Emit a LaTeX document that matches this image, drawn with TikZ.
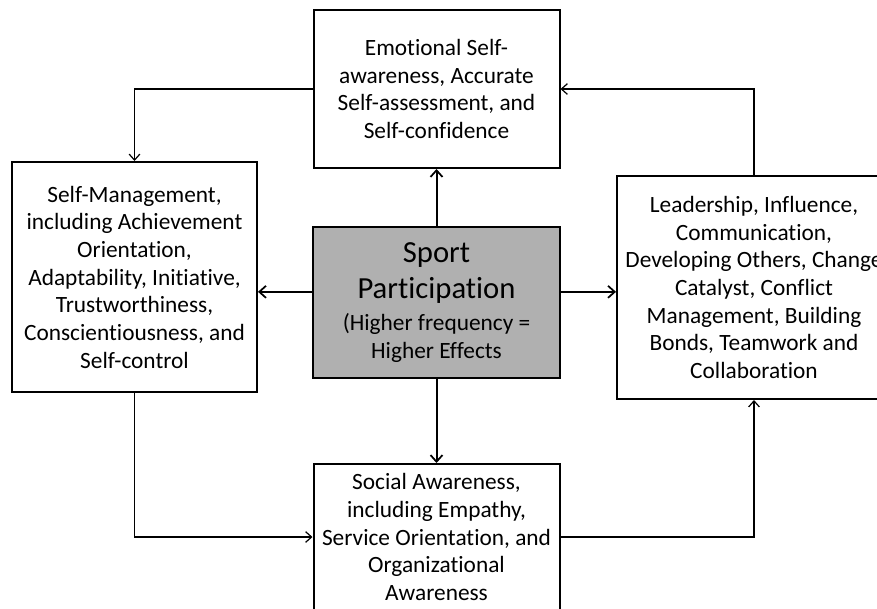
\documentclass[tikz,border=0pt]{standalone}
\usepackage{fontspec}
\setmainfont[Ligatures=NoCommon]{Carlito}
\usetikzlibrary{arrows.meta}

\definecolor{sportgray}{RGB}{176,176,176}

\begin{document}
\begin{tikzpicture}[
    x=0.75pt, y=-0.75pt,
    box/.style={draw, line width=1.5pt, rectangle, align=center, inner sep=0pt,
                font=\fontsize{17.5}{20.75}\selectfont},
    thickarr/.style={line width=1.5pt, -{Straight Barb[length=5pt,width=9pt,line width=1.3pt]}},
    thinarr/.style={line width=0.9pt, -{Straight Barb[length=4.5pt,width=8pt,line width=0.9pt]}}
]
    \useasboundingbox (0,0) rectangle (877,608);
    \clip (0,0) rectangle (877,608);
    \fill[white] (0,0) rectangle (877,608);

    \node[box, minimum width=184.5pt, minimum height=118.5pt] (emo) at (436.5,89)
        {Emotional Self-\\awareness, Accurate\\Self-assessment, and\\Self-confidence};
    \node[box, minimum width=183.75pt, minimum height=172.5pt] (selfm) at (134.5,277)
        {Self-Management,\\including Achievement\\Orientation,\\Adaptability, Initiative,\\Trustworthiness,\\Conscientiousness, and\\Self-control};
    \node[box, fill=sportgray, minimum width=185.25pt, minimum height=113.25pt, font=\fontsize{23}{27}\selectfont] (sport) at (436.5,302.5)
        {Sport\\Participation\\[-3pt]{\fontsize{17.5}{20.5}\selectfont (Higher frequency =}\\[-6.5pt]{\fontsize{17.5}{20.5}\selectfont Higher Effects}};
    \node[box, minimum width=205.5pt, minimum height=167.25pt] (lead) at (754,287.5)
        {Leadership, Influence,\\Communication,\\Developing Others, Change\\Catalyst, Conflict\\Management, Building\\Bonds, Teamwork and\\Collaboration};
    \node[box, minimum width=184.5pt, minimum height=109.5pt] (social) at (436.5,537)
        {Social Awareness,\\including Empathy,\\Service Orientation, and\\Organizational\\Awareness};

    % sport participation feeds every area
    \draw[thickarr] (sport.north) -- (emo.south);
    \draw[thickarr] (sport.south) -- (social.north);
    \draw[thickarr] ([yshift=8pt]sport.west) -- ([yshift=8pt]sport.west -| selfm.east);
    \draw[thickarr] ([yshift=8pt]sport.east) -- ([yshift=8pt]sport.east -| lead.west);

    % cycle round the areas
    \draw[thinarr] (emo.west) -| (selfm.north);
    \draw[thinarr] (selfm.south) |- (social.west);
    \draw[thinarr] (social.east) -| (lead.south);
    \draw[thinarr] (lead.north) |- (emo.east);
\end{tikzpicture}
\end{document}
